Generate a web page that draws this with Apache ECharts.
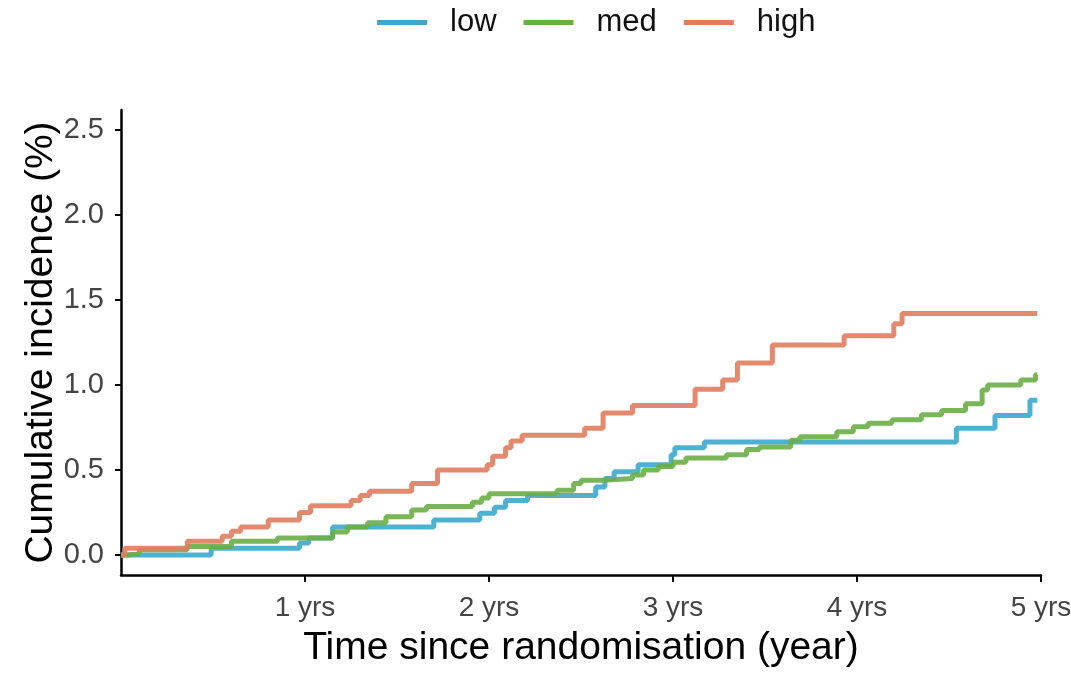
<!DOCTYPE html>
<html>
<head>
<meta charset="utf-8">
<script src="https://cdn.jsdelivr.net/npm/echarts@6/dist/echarts.min.js"></script>
<style>
  html, body { margin: 0; padding: 0; background: #fff; }
  #chart { width: 1071px; height: 673px; }
</style>
</head>
<body>
<div id="chart"></div>
<script>
// step points: value holds from time onward
var lowTime = [0, 0.49, 0.97, 1.02, 1.15, 1.70, 1.95, 2.03, 2.09, 2.21, 2.58, 2.63, 2.68, 2.81, 2.99, 3.01, 3.17, 4.54, 4.75, 4.94, 4.98];
var lowValue = [0, 0.04, 0.07, 0.10, 0.165, 0.205, 0.245, 0.28, 0.32, 0.35, 0.40, 0.45, 0.49, 0.53, 0.59, 0.63, 0.665, 0.745, 0.82, 0.91, 0.91];

var medTime = [0, 0.04, 0.10, 0.36, 0.60, 0.85, 1.15, 1.23, 1.34, 1.44, 1.58, 1.66, 1.91, 1.96, 2.0, 2.37, 2.46, 2.50, 2.62, 2.78, 2.84, 2.92, 3.0, 3.07, 3.29, 3.40, 3.47, 3.64, 3.69, 3.89, 3.98, 4.06, 4.19, 4.35, 4.46, 4.59, 4.68, 4.71, 4.89, 4.97, 4.98];
var medValue = [0, 0.01, 0.03, 0.05, 0.08, 0.10, 0.135, 0.165, 0.19, 0.225, 0.265, 0.285, 0.31, 0.335, 0.36, 0.38, 0.42, 0.44, 0.45, 0.47, 0.50, 0.52, 0.545, 0.57, 0.59, 0.62, 0.635, 0.675, 0.695, 0.725, 0.755, 0.775, 0.795, 0.825, 0.85, 0.89, 0.97, 1.0, 1.03, 1.06, 1.06];

var highTime = [0, 0.02, 0.36, 0.55, 0.60, 0.65, 0.80, 0.97, 1.03, 1.25, 1.30, 1.35, 1.58, 1.72, 1.99, 2.02, 2.09, 2.12, 2.18, 2.52, 2.62, 2.78, 3.12, 3.27, 3.35, 3.54, 3.93, 4.20, 4.245, 4.98];
var highValue = [0, 0.04, 0.08, 0.11, 0.14, 0.165, 0.205, 0.25, 0.29, 0.32, 0.35, 0.375, 0.42, 0.50, 0.53, 0.58, 0.63, 0.67, 0.705, 0.745, 0.835, 0.88, 0.975, 1.03, 1.13, 1.235, 1.29, 1.36, 1.42, 1.42];

var groups = ['low', 'med', 'high'];
var xTicks = [1, 2, 3, 4, 5];
var yTicks = [0, 0.5, 1.0, 1.5, 2.0, 2.5];

function pairs(t, v) {
  var out = [];
  for (var i = 0; i < t.length; i++) out.push([t[i], v[i]]);
  return out;
}

var chart = echarts.init(document.getElementById('chart'));
var font = 'Liberation Sans, Arial, sans-serif';

var option = {
  backgroundColor: '#ffffff',
  color: ['#3ba9cc', '#6aae45', '#e07d5e'],
  animation: false,
  textStyle: { fontFamily: font },
  legend: {
    data: groups,
    top: 2,
    left: 372,
    icon: 'rect',
    itemWidth: 50,
    itemHeight: 5,
    itemGap: 27,
    textStyle: { fontSize: 31, color: '#111', padding: [0, 0, 0, 18], fontFamily: font }
  },
  grid: { left: 121, right: 30, top: 110, bottom: 98, outerBoundsMode: 'none', containLabel: false },
  xAxis: {
    type: 'value',
    min: 0,
    max: 5,
    name: 'Time since randomisation (year)',
    nameLocation: 'middle',
    nameGap: 54,
    nameMoveOverlap: false,
    nameTextStyle: { fontSize: 39, color: '#000', fontFamily: font },
    axisLine: { onZero: false, lineStyle: { color: '#000', width: 2.5 } },
    axisTick: { length: 7, lineStyle: { color: '#000', width: 2 }, customValues: xTicks },
    axisLabel: {
      customValues: xTicks,
      fontSize: 28,
      color: '#444',
      margin: 19,
      formatter: function (v) { return v + ' yrs'; }
    },
    splitLine: { show: false }
  },
  yAxis: {
    type: 'value',
    min: -0.118,
    max: 2.618,
    name: 'Cumulative incidence (%)',
    nameLocation: 'middle',
    nameGap: 60,
    nameMoveOverlap: false,
    nameTextStyle: { fontSize: 39, color: '#000', fontFamily: font },
    axisLine: { show: true, lineStyle: { color: '#000', width: 2.5 } },
    axisTick: { show: true, length: 6, lineStyle: { color: '#000', width: 2 }, customValues: yTicks },
    axisLabel: {
      customValues: yTicks,
      fontSize: 29,
      color: '#444',
      margin: 17,
      formatter: function (v) { return v.toFixed(1); }
    },
    splitLine: { show: false }
  },
  series: [
    { name: 'low', type: 'line', step: 'end', showSymbol: false, data: pairs(lowTime, lowValue), lineStyle: { width: 5, opacity: 0.9 } },
    { name: 'med', type: 'line', step: 'end', showSymbol: false, data: pairs(medTime, medValue), lineStyle: { width: 5, opacity: 0.9 } },
    { name: 'high', type: 'line', step: 'end', showSymbol: false, data: pairs(highTime, highValue), lineStyle: { width: 5, opacity: 0.9 } }
  ]
};

chart.setOption(option);
</script>
</body>
</html>
